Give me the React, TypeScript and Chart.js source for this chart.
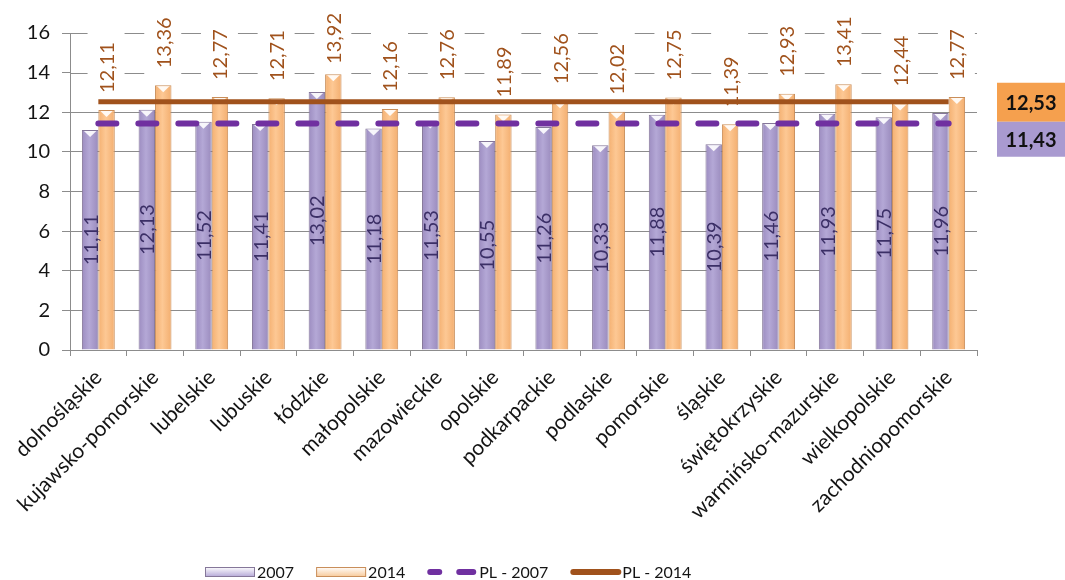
import React, { useEffect, useRef } from "react";
import { Chart, registerables } from "chart.js";

Chart.register(...registerables);

const regions = [
  "dolnośląskie",
  "kujawsko-pomorskie",
  "lubelskie",
  "lubuskie",
  "łódzkie",
  "małopolskie",
  "mazowieckie",
  "opolskie",
  "podkarpackie",
  "podlaskie",
  "pomorskie",
  "śląskie",
  "świętokrzyskie",
  "warmińsko-mazurskie",
  "wielkopolskie",
  "zachodniopomorskie",
];
const values2007 = [11.11, 12.13, 11.52, 11.41, 13.02, 11.18, 11.53, 10.55, 11.26, 10.33, 11.88, 10.39, 11.46, 11.93, 11.75, 11.96];
const values2014 = [12.11, 13.36, 12.77, 12.71, 13.92, 12.16, 12.76, 11.89, 12.56, 12.02, 12.75, 11.39, 12.93, 13.41, 12.44, 12.77];
const pl2007 = 11.43;
const pl2014 = 12.53;
const seriesNames = ["2007", "2014", "PL - 2007", "PL - 2014"];
const yMin = 0;
const yMax = 16;
const yStep = 2;
const dashedGridValues = [14, 16];

const FONT = "Lato, 'Open Sans', sans-serif";
const PURPLE = "#a99bcc";
const PURPLE_EDGE = "#857799";
const ORANGE = "#f9bd85";
const ORANGE_EDGE = "#c98e5a";
const PL07 = "#7030a0";
const PL14 = "#a0521c";
const GRID = "#8c8c8c";
const TEXT = "#141414";
const CAT_PCT = 0.58;

const fmt = (v: number) => v.toFixed(2).replace(".", ",");

const barGradient = (stops: string[], side: number) => (c: any) => {
  const chart = c.chart;
  const xs = chart.scales?.x;
  if (!chart.chartArea || !xs || c.dataIndex === undefined) return stops[1];
  const center = xs.getPixelForValue(c.dataIndex);
  const w = (xs.width / regions.length) * CAT_PCT / 2;
  const l = side === 0 ? center - w : center;
  const g = chart.ctx.createLinearGradient(l, 0, l + w, 0);
  g.addColorStop(0, stops[0]);
  g.addColorStop(0.45, stops[1]);
  g.addColorStop(1, stops[2]);
  return g;
};

const gridPlugin = {
  id: "dashedGrid",
  beforeDatasetsDraw(chart: any) {
    const { ctx, chartArea } = chart;
    const y = chart.scales.y;
    const meta = chart.getDatasetMeta(1);
    const gaps = meta.data.map((b: any) => b.x);
    ctx.save();
    ctx.strokeStyle = GRID;
    ctx.lineWidth = 1;
    dashedGridValues.forEach((v) => {
      const py = Math.round(y.getPixelForValue(v)) + 0.5;
      let start = chartArea.left;
      ctx.beginPath();
      gaps.forEach((gx: number) => {
        const end = gx - 19;
        if (end > start) {
          ctx.moveTo(start, py);
          ctx.lineTo(end, py);
        }
        start = gx + 18;
      });
      if (chartArea.right > start) {
        ctx.moveTo(start, py);
        ctx.lineTo(chartArea.right, py);
      }
      ctx.stroke();
    });
    ctx.restore();
  },
};

const capPlugin = {
  id: "barCaps",
  afterDatasetDraw(chart: any, args: any) {
    if (args.index > 1) return;
    const { ctx } = chart;
    const meta = chart.getDatasetMeta(args.index);
    ctx.save();
    ctx.fillStyle = "rgba(255,255,255,0.9)";
    meta.data.forEach((bar: any) => {
      const { x, y, width } = bar.getProps(["x", "y", "width"], true);
      ctx.beginPath();
      ctx.moveTo(x - width / 2 + 2, y + 1);
      ctx.lineTo(x + width / 2 - 2, y + 1);
      ctx.lineTo(x, y + 7);
      ctx.closePath();
      ctx.fill();
    });
    ctx.restore();
  },
};

const labelPlugin = {
  id: "valueLabels",
  afterDatasetsDraw(chart: any) {
    const { ctx } = chart;
    const m0 = chart.getDatasetMeta(0);
    const m1 = chart.getDatasetMeta(1);
    ctx.save();
    ctx.font = `20px ${FONT}`;
    m0.data.forEach((bar: any, i: number) => {
      const { x, y, base } = bar.getProps(["x", "y", "base"], true);
      ctx.save();
      ctx.translate(x, (y + base) / 2);
      ctx.rotate(-Math.PI / 2);
      ctx.textAlign = "center";
      ctx.textBaseline = "middle";
      ctx.fillStyle = "#3b2f66";
      ctx.fillText(fmt(values2007[i]), 0, 1);
      ctx.restore();
    });
    m1.data.forEach((bar: any, i: number) => {
      const { x, y } = bar.getProps(["x", "y"], true);
      const txt = fmt(values2014[i]);
      const w = ctx.measureText(txt).width;
      const anchor = Math.max(y - 17, 13 + w);
      ctx.save();
      ctx.translate(x, anchor);
      ctx.rotate(-Math.PI / 2);
      ctx.textAlign = "left";
      ctx.textBaseline = "middle";
      ctx.fillStyle = PL14;
      ctx.fillText(txt, 0, 1);
      ctx.restore();
    });
    ctx.restore();
  },
};

const sidePlugin = {
  id: "sideBoxes",
  afterDraw(chart: any) {
    const { ctx, chartArea, width } = chart;
    const y = chart.scales.y;
    const cy = y.getPixelForValue(pl2014);
    const left = chartArea.right + 20;
    const top1 = cy - 19;
    const h1 = 39;
    const h2 = 35;
    ctx.save();
    ctx.fillStyle = "#f5a04e";
    ctx.fillRect(left, top1, width - left, h1);
    ctx.fillStyle = "#a99ad0";
    ctx.fillRect(left, top1 + h1, width - left, h2);
    ctx.fillStyle = "#111";
    ctx.font = `bold 20px ${FONT}`;
    ctx.textAlign = "center";
    ctx.textBaseline = "middle";
    const cx = (left + width) / 2;
    ctx.fillText(fmt(pl2014), cx, top1 + h1 / 2 + 1);
    ctx.fillText(fmt(pl2007), cx, top1 + h1 + h2 / 2 + 1);
    ctx.restore();
  },
};

const legendPlugin = {
  id: "customLegend",
  afterDraw(chart: any) {
    const { ctx } = chart;
    const ly = 572;
    let x = 205;
    ctx.save();
    ctx.font = `16px ${FONT}`;
    ctx.textBaseline = "middle";
    ctx.textAlign = "left";
    seriesNames.forEach((name, i) => {
      const sw = 50;
      if (i === 0 || i === 1) {
        const g = ctx.createLinearGradient(0, ly - 5, 0, ly + 5);
        if (i === 0) {
          g.addColorStop(0, "#ffffff");
          g.addColorStop(1, "#b3a6d6");
        } else {
          g.addColorStop(0, "#ffffff");
          g.addColorStop(1, "#f7c896");
        }
        ctx.fillStyle = g;
        ctx.fillRect(x, ly - 5, sw, 10);
        ctx.strokeStyle = i === 0 ? PURPLE_EDGE : ORANGE_EDGE;
        ctx.lineWidth = 1;
        ctx.strokeRect(x + 0.5, ly - 4.5, sw - 1, 9);
      } else if (i === 2) {
        ctx.strokeStyle = PL07;
        ctx.lineWidth = 6;
        ctx.lineCap = "round";
        ctx.beginPath();
        ctx.moveTo(x + 3, ly);
        ctx.lineTo(x + 12, ly);
        ctx.moveTo(x + 32, ly);
        ctx.lineTo(x + 46, ly);
        ctx.stroke();
      } else {
        ctx.strokeStyle = PL14;
        ctx.lineWidth = 6;
        ctx.lineCap = "round";
        ctx.beginPath();
        ctx.moveTo(x + 3, ly);
        ctx.lineTo(x + sw - 2, ly);
        ctx.stroke();
      }
      x += sw + 2;
      ctx.fillStyle = TEXT;
      ctx.fillText(name, x, ly + 1);
      x += ctx.measureText(name).width + 22;
    });
    ctx.restore();
  },
};

export default function App() {
  const ref = useRef<HTMLCanvasElement | null>(null);
  useEffect(() => {
    if (!ref.current) return;
    const chart = new Chart(ref.current, {
      type: "bar",
      data: {
        labels: regions,
        datasets: [
          {
            type: "bar",
            label: seriesNames[0],
            data: values2007,
            backgroundColor: barGradient(["#9c8cc0", "#b4a8d6", "#9a8bbd"], 0),
            borderColor: PURPLE_EDGE,
            borderWidth: 1,
            categoryPercentage: CAT_PCT,
            barPercentage: 1,
            order: 2,
          },
          {
            type: "bar",
            label: seriesNames[1],
            data: values2014,
            backgroundColor: barGradient(["#f4b071", "#fdc894", "#f3ae6f"], 1),
            borderColor: ORANGE_EDGE,
            borderWidth: 1,
            categoryPercentage: CAT_PCT,
            barPercentage: 1,
            order: 2,
          },
          {
            type: "line",
            label: seriesNames[2],
            data: regions.map(() => pl2007),
            borderColor: PL07,
            borderWidth: 6,
            borderDash: [18, 22],
            borderCapStyle: "round",
            pointRadius: 0,
            fill: false,
            order: 0,
          },
          {
            type: "line",
            label: seriesNames[3],
            data: regions.map(() => pl2014),
            borderColor: PL14,
            borderWidth: 5,
            pointRadius: 0,
            fill: false,
            order: 1,
          },
        ] as any,
      },
      options: {
        animation: false,
        responsive: true,
        maintainAspectRatio: false,
        layout: { padding: { top: 33, right: 88, bottom: 40, left: 0 } },
        plugins: {
          legend: { display: false },
          tooltip: { enabled: false },
        },
        scales: {
          x: {
            grid: {
              drawOnChartArea: false,
              offset: true,
              tickLength: 6,
              color: GRID,
              tickColor: GRID,
            },
            border: { color: GRID },
            ticks: {
              autoSkip: false,
              minRotation: 45,
              maxRotation: 45,
              padding: 9,
              color: TEXT,
              font: { family: FONT, size: 21 },
            },
            afterFit: (s: any) => {
              s.height = 190;
            },
          },
          y: {
            min: yMin,
            max: yMax,
            ticks: {
              stepSize: yStep,
              padding: 12,
              color: TEXT,
              font: { family: FONT, size: 20 },
            },
            grid: {
              color: (c: any) => (dashedGridValues.includes(c.tick?.value) ? "rgba(0,0,0,0)" : GRID),
              tickColor: GRID,
              tickLength: 8,
            },
            border: { color: GRID },
            afterFit: (s: any) => {
              s.width = 70;
            },
          },
        },
      },
      plugins: [gridPlugin, capPlugin, labelPlugin, sidePlugin, legendPlugin],
    });
    return () => chart.destroy();
  }, []);
  return (
    <div style={{ position: "fixed", left: 0, top: 0, width: 1065, height: 580, background: "#fff" }}>
      <canvas ref={ref} />
    </div>
  );
}
